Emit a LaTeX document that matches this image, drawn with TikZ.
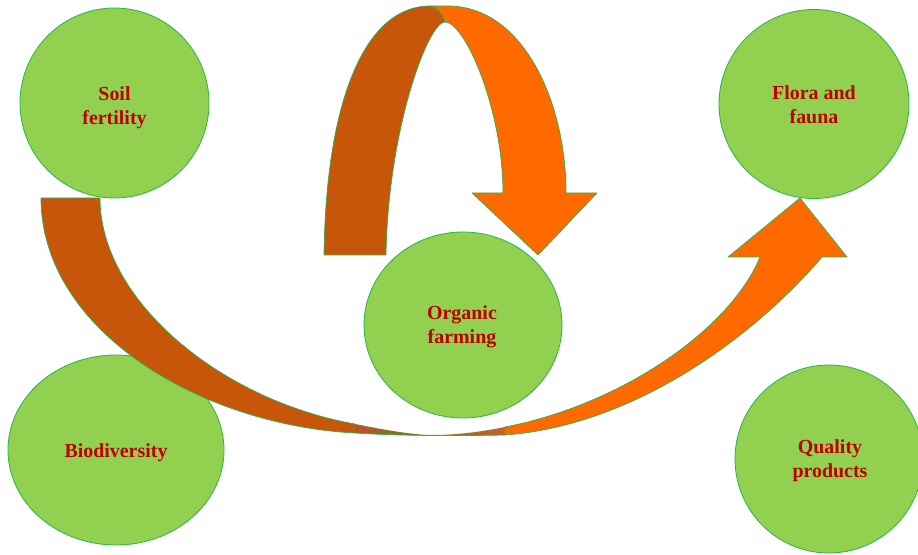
\documentclass[tikz,border=0pt]{standalone}
\usepackage{fontspec}
\setmainfont{Liberation Serif}
\usetikzlibrary{shapes.geometric}
\definecolor{cfill}{RGB}{146,208,80}
\definecolor{cline}{RGB}{40,180,75}
\definecolor{darkor}{RGB}{200,86,10}
\definecolor{brightor}{RGB}{255,106,0}
\definecolor{txtred}{RGB}{192,0,0}
\definecolor{midL}{RGB}{185,82,40}
\definecolor{midM}{RGB}{100,135,35}
\definecolor{midR}{RGB}{210,90,40}
\tikzset{
  bubble/.style={ellipse, draw=cline, fill=cfill, line width=0.8bp, inner sep=0pt},
  lbl/.style={align=center, text=txtred, inner sep=0pt,
    font=\bfseries\fontsize{20}{24}\selectfont},
  bandline/.style={draw=cline, line width=0.7bp, line join=round}
}
\begin{document}
\begin{tikzpicture}[x=1bp,y=-1bp]
\useasboundingbox[fill=white] (0,0) rectangle (918,555);

% circles
\node[bubble, minimum width=189bp, minimum height=190bp] (soil) at (114.5,103) {};
\node[bubble, minimum width=190bp, minimum height=189bp] (flora) at (814,104) {};
\node[bubble, minimum width=198bp, minimum height=186bp] (organic) at (463,325) {};
\node[bubble, minimum width=216bp, minimum height=190bp] (bio) at (116,450) {};
\node[bubble, minimum width=188bp, minimum height=188bp] (quality) at (829,459) {};

% labels
\node[lbl] (soilT) at ([yshift=-4.5bp]soil.center) {Soil\\fertility};
\node[lbl] (floraT) at ([yshift=-1bp]flora.center) {Flora and\\fauna};
\node[lbl] (organicT) at ([yshift=-1.5bp,xshift=-1bp]organic.center) {Organic\\farming};
\node[lbl] (bioT) at ([yshift=-3bp]bio.center) {Biodiversity};
\node[lbl] (qualityT) at ([yshift=-2bp,xshift=1bp]quality.center) {Quality\\products};

% top curved arrow: back (dark) part
\fill[darkor, bandline] (324,255) .. controls (326,100) and (365,6) .. (430,6)
  .. controls (438,8) and (443,14) .. (445,22)
  .. controls (428,22) and (388,130) .. (386,255) -- cycle;
% top curved arrow: front (bright) part with head
\fill[brightor, bandline] (430,6) -- (448,6) .. controls (522,6) and (566,100) .. (566,193)
  -- (597,193) -- (538,255) -- (472,193) -- (503,193)
  .. controls (503,110) and (465,22) .. (445,22)
  .. controls (443,14) and (438,8) .. (430,6) -- cycle;

% lower curved arrow: dark part
\fill[darkor, bandline] (41,198) -- (100,198) .. controls (100,300) and (220,400) .. (355,424)
  -- (355,433) .. controls (200,425) and (41,330) .. (41,198) -- cycle;
% lower curved arrow: middle twist
\path[shading=axis, left color=midL, right color=midR, middle color=midM]
  (355,424) .. controls (390,431) and (415,435) .. (433,435)
  .. controls (460,435) and (485,431) .. (505,427) -- (505,435)
  .. controls (460,436) and (400,436) .. (355,433) -- cycle;
\draw[cline, line width=0.7bp] (355,433) .. controls (400,436) and (460,436) .. (505,435);
% lower curved arrow: bright part with head
\fill[brightor, bandline] (505,427) .. controls (620,405) and (730,330) .. (760,257)
  -- (728,257) -- (800,198) -- (847,257) -- (822,257)
  .. controls (760,330) and (640,425) .. (505,435) -- cycle;
\end{tikzpicture}
\end{document}
